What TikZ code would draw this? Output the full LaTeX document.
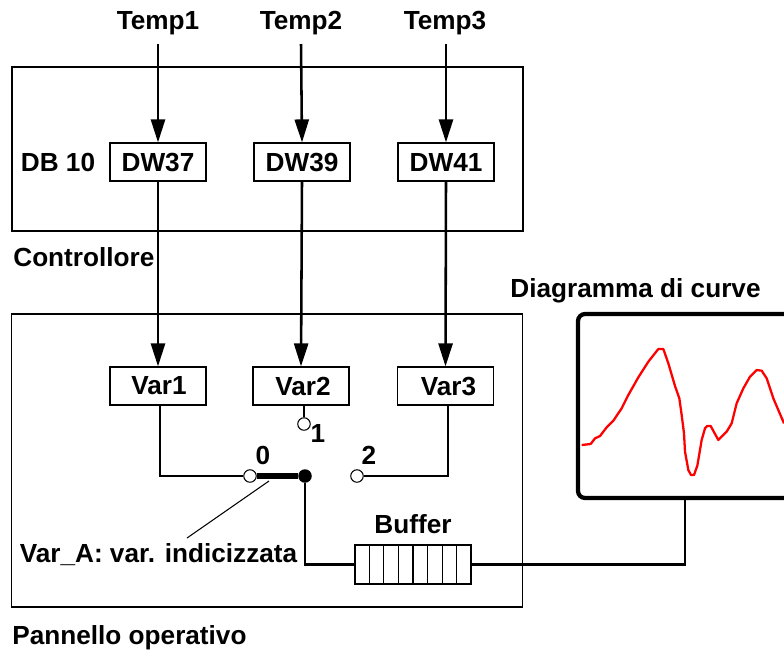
\documentclass[tikz,border=0pt]{standalone}
\usepackage{fontspec}
\setmainfont{Liberation Sans}
\usetikzlibrary{arrows.meta,calc}
\tikzset{
	lab/.style={font=\fontsize{14.9}{17}\selectfont\bfseries,inner sep=0pt},
	reg/.style={draw,line width=.65pt,minimum width=1.92cm,minimum height=.76cm,inner sep=0pt,font=\fontsize{14.9}{17}\selectfont\bfseries},
	block/.style={draw,line width=.9pt,inner sep=0pt},
	pin/.style={circle,draw,fill=white,line width=.6pt,minimum size=.25cm,inner sep=0pt},
	wire/.style={line width=1.45pt},
	flow/.style={line width=1.45pt,-{Triangle[length=.46cm,width=.28cm]}}
}
\begin{document}
\begin{tikzpicture}[x=.02cm,y=-.02cm]
		\useasboundingbox (0,0) rectangle (784,650);
		\clip (0,0) rectangle (784,650);
		\node[block,minimum width=10.22cm,minimum height=3.28cm] (ctrl) at (267.5,149){};
		\node[block,minimum width=10.22cm,minimum height=5.86cm] (panel) at (267,460.5){};
		%%%%%%%%%%%%%%%%%%%%%%%%%%%%%%%%%
		\node[lab] (temp1) at (158,23.5){Temp1};
		\node[lab] (temp2) at (301,23.5){Temp2};
		\node[lab] (temp3) at (445,23.5){Temp3};
		\coordinate (in1) at (158,44);
		\coordinate (in2) at (301,44);
		\coordinate (in3) at (446,44);
		\node[reg] (dw37) at (158,162){DW37};
		\node[reg] (dw39) at (302,162){DW39};
		\node[reg] (dw41) at (446,162){DW41};
		\node[lab] (db) at (58,162.5){DB 10};
		\node[lab,anchor=west] (ctrllab) at (13,257){Controllore};
		\draw[flow] (in1) -- (dw37.north);
		\draw[flow] (in2) -- (dw39.north);
		\draw[flow] (in3) -- (dw41.north);
		%%%%%%%%%%%%%%%%%%%%%%%%%%%%%%%%%
		\node[reg] (var1) at (158,386){\hspace{.04cm}Var1};
		\node[reg] (var2) at (301,386){\hspace{.08cm}Var2};
		\node[reg] (var3) at (445.5,386){\hspace{.12cm}Var3};
		\draw[flow] (dw37.south) -- (var1.north);
		\draw[flow] (dw39.south) -- (var2.north);
		\draw[flow] (dw41.south) -- (var3.north);
		%%%%%%%%%%%%%%%%%%%%%%%%%%%%%%%%%
		\node[pin] (sw0) at (250,476){};
		\node[pin] (sw1) at (304,424){};
		\node[pin] (sw2) at (357,476){};
		\node[circle,fill,minimum size=.27cm,inner sep=0pt] (swc) at (305,476){};
		\node[lab] (n0) at (263,455){0};
		\node[lab] (n1) at (318,433){1};
		\node[lab] (n2) at (369,455){2};
		\draw[wire] ([xshift=.04cm]var1.south) |- (sw0.west);
		\draw[wire] (var2.south-|sw1) -- (sw1.north);
		\draw[wire] ([xshift=.05cm]var3.south) |- (sw2.east);
		\draw[line width=3.2pt] (sw0.east) -- (swc);
		%%%%%%%%%%%%%%%%%%%%%%%%%%%%%%%%%
		\node[lab] (varA) at (158.5,554.5){Var\_A: var. indicizzata};
		\coordinate (tip) at (269,481);
		\coordinate (foot) at (187,538);
		\draw[line width=.6pt] (tip) -- (foot);
		%%%%%%%%%%%%%%%%%%%%%%%%%%%%%%%%%
		\node[reg,minimum width=2.32cm,minimum height=.78cm] (buffer) at (413,564.5){};
		\foreach \i in {1,...,7}
			\draw[line width=.6pt] ($(buffer.south west)!\i/8!(buffer.south east)$) -- ($(buffer.north west)!\i/8!(buffer.north east)$);
		\node[lab] (buflab) at (413,524){Buffer};
		\draw[wire] (swc) |- (buffer.west);
		%%%%%%%%%%%%%%%%%%%%%%%%%%%%%%%%%
		\node[draw,line width=2.4pt,rounded corners=.14cm,minimum width=4.28cm,minimum height=3.68cm] (monitor) at (685,406){};
		\node[lab,anchor=west] (monlab) at (510,291){Diagramma di curve};
		\draw[wire] (buffer.east) -| (monitor.south);
		\begin{scope}[shift={(560,300)},scale=1/3]
			\draw[red,line width=1.3pt,line join=round] (65,435) -- (92,432) -- (105,415) -- (120,408) -- (140,382) -- (160,362) -- (185,325) -- (205,285) -- (235,232) -- (265,185) -- (295,147) -- (310,147) -- (325,190) -- (345,258) -- (358,295) -- (365,345) -- (372,400) -- (375,455) -- (385,510) -- (393,525) -- (402,525) -- (412,497) -- (425,420) -- (435,385) -- (442,378) -- (452,378) -- (475,420) -- (500,395) -- (515,370) -- (530,310) -- (550,265) -- (570,230) -- (590,210) -- (605,212) -- (620,235) -- (640,295) -- (672,370);
		\end{scope}
		%%%%%%%%%%%%%%%%%%%%%%%%%%%%%%%%%
		\node[lab,anchor=west] (panlab) at (12,638){Pannello operativo};
	\end{tikzpicture}
\end{document}
